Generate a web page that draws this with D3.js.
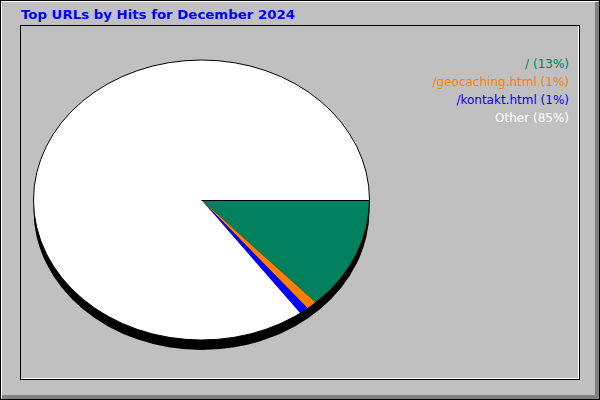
<!DOCTYPE html>
<html><head><meta charset="utf-8">
<script src="https://cdn.jsdelivr.net/npm/d3@7"></script>
<style>body{margin:0;background:#fff}svg{display:block}</style>
</head><body>
<script>
const categories = ["/", "/geocaching.html", "/kontakt.html", "Other"];
const percents = [13.1, 1.0, 0.9, 85.0];
const colors = ["#00805c", "#ff8000", "#0000ff", "#ffffff"];
const titleText = "Top URLs by Hits for December 2024";

const W = 600, H = 400;
const svg = d3.select("body").append("svg").attr("width", W).attr("height", H);

// outer frame
svg.append("rect").attr("x",0).attr("y",0).attr("width",W).attr("height",H).attr("fill","#c0c0c0");
svg.append("rect").attr("x",0.5).attr("y",0.5).attr("width",599).attr("height",399).attr("fill","none").attr("stroke","#000");
svg.append("line").attr("x1",1).attr("y1",1.5).attr("x2",598).attr("y2",1.5).attr("stroke","#fff");
svg.append("line").attr("x1",1.5).attr("y1",1).attr("x2",1.5).attr("y2",398).attr("stroke","#fff");
svg.append("rect").attr("x",595).attr("y",2).attr("width",4).attr("height",397).attr("fill","#808080");
svg.append("rect").attr("x",2).attr("y",395).attr("width",597).attr("height",4).attr("fill","#808080");
// inner frame
svg.append("rect").attr("x",20.5).attr("y",25.5).attr("width",559).attr("height",354).attr("fill","none").attr("stroke","#000");
svg.append("line").attr("x1",21).attr("y1",378.5).attr("x2",579).attr("y2",378.5).attr("stroke","#fff");
svg.append("line").attr("x1",578.5).attr("y1",26).attr("x2",578.5).attr("y2",379).attr("stroke","#fff");

// title
svg.append("text").attr("x",21).attr("y",19).text(titleText)
  .attr("font-family","DejaVu Sans").attr("font-weight","bold").attr("font-size",13)
  .attr("textLength",274).attr("lengthAdjust","spacingAndGlyphs").attr("fill","#0000ff");

// pie
const cx = 201.5, cy = 200, rx = 168, ry = 140, depth = 10;
svg.append("ellipse").attr("cx",cx).attr("cy",cy+depth).attr("rx",rx).attr("ry",ry).attr("fill","#000");
const pie = d3.pie().sort(null).value(d=>d).startAngle(Math.PI/2).endAngle(Math.PI/2 + 2*Math.PI);
const arcs = pie(percents);
const arc = d3.arc().innerRadius(0).outerRadius(1);
const g = svg.append("g").attr("transform",`translate(${cx},${cy}) scale(${rx},${ry})`);
g.selectAll("path").data(arcs).join("path").attr("d",arc).attr("fill",(d,i)=>colors[i]);
svg.append("ellipse").attr("cx",cx).attr("cy",cy).attr("rx",rx).attr("ry",ry).attr("fill","none").attr("stroke","#000").attr("stroke-width",1);
svg.append("line").attr("x1",cx).attr("y1",cy+0.5).attr("x2",cx+rx).attr("y2",cy+0.5).attr("stroke","#000");

// legend
const legendColors = ["#00805c", "#ff8000", "#0000ff", "#ffffff"];
svg.selectAll("text.leg").data(categories).join("text").attr("class","leg")
  .attr("x",569).attr("y",(d,i)=>68 + i*18).attr("text-anchor","end")
  .attr("font-family","DejaVu Sans").attr("font-size",12)
  .attr("fill",(d,i)=>legendColors[i])
  .text((d,i)=>`${d} (${Math.round(percents[i])}%)`);
</script>
</body></html>
